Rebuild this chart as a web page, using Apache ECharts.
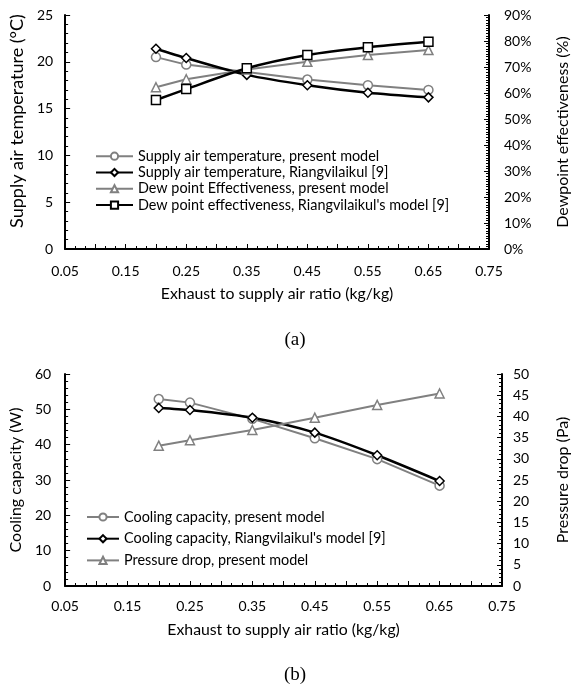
<!DOCTYPE html>
<html>
<head>
<meta charset="utf-8">
<script src="https://cdn.jsdelivr.net/npm/echarts@6/dist/echarts.min.js"></script>
<style>
html,body{margin:0;padding:0;background:#fff;}
#c{width:579px;height:686px;}
</style>
</head>
<body>
<div id="c"></div>
<script>
// ---- data ----
const ratios = [0.2, 0.25, 0.35, 0.45, 0.55, 0.65];
// (a)
const supplyTempPresent = [20.5, 19.7, 18.9, 18.1, 17.5, 17.0];
const supplyTempRiang = [21.4, 20.4, 18.6, 17.5, 16.7, 16.2];
const dewEffPresent = [62.2, 65.3, 69.0, 72.0, 74.6, 76.5];
const dewEffRiang = [57.3, 61.5, 69.5, 74.6, 77.6, 79.7];
// (b)
const coolingPresent = [52.9, 51.9, 47.3, 41.8, 35.9, 28.4];
const coolingRiang = [50.4, 49.8, 47.6, 43.4, 37.0, 29.7];
const pressureDropPresent = [33.1, 34.4, 36.8, 39.7, 42.7, 45.4];

const namesA = [
  'Supply air temperature, present model',
  'Supply air temperature, Riangvilaikul [9]',
  'Dew point Effectiveness, present model',
  "Dew point effectiveness, Riangvilaikul's model [9]"
];
const namesB = [
  'Cooling capacity, present model',
  "Cooling capacity, Riangvilaikul's model [9]",
  'Pressure drop, present model'
];
const xTitle = 'Exhaust to supply air ratio (kg/kg)';

const pair = (ys) => ratios.map((x, i) => [x, ys[i]]);

const GREY = '#808080';
const BLACK = '#000000';
const FONT = 'Lato';

function xAxisCfg(gridIndex, nameGap, margin) {
  return {
    type: 'value', gridIndex, min: 0.05, max: 0.75, interval: 0.05,
    name: xTitle, nameLocation: 'middle', nameGap,
    nameTextStyle: { fontFamily: FONT, fontSize: 15.8, color: '#000' },
    axisLine: { show: true, lineStyle: { color: '#000', width: 2 } },
    axisTick: { show: true, inside: true, length: 5, lineStyle: { color: '#000', width: 1 } },
    minorTick: { show: true, splitNumber: 3, length: 3, lineStyle: { color: '#000', width: 1 } },
    splitLine: { show: false },
    axisLabel: {
      margin, fontFamily: FONT, fontSize: 14, color: '#000',
      formatter: (v) => (Math.round(v * 100) % 10 === 5 ? v.toFixed(2) : '')
    }
  };
}

function yAxisCfg(gridIndex, pos, max, interval, minorSplit, name, nameGap, fmt, margin, nameSize, pad) {
  return {
    type: 'value', gridIndex, position: pos, min: 0, max, interval,
    name, nameLocation: 'middle', nameGap, nameRotate: 90,
    nameTextStyle: { fontFamily: FONT, fontSize: nameSize, color: '#000', padding: pad || 0 },
    axisLine: { show: true, lineStyle: { color: '#000', width: 2 } },
    axisTick: { show: true, inside: true, length: 5, lineStyle: { color: '#000', width: 1 } },
    minorTick: { show: true, splitNumber: minorSplit, length: 3, lineStyle: { color: '#000', width: 1 } },
    splitLine: { show: false },
    axisLabel: { margin, fontFamily: FONT, fontSize: 14, color: '#000', formatter: fmt }
  };
}

function lineSeries(name, data, xi, yi, color, symbol, width, smooth) {
  return {
    type: 'line', name, data, xAxisIndex: xi, yAxisIndex: yi,
    symbol, symbolSize: 9, showSymbol: true, smooth: smooth ? 0.25 : false,
    lineStyle: { color, width },
    itemStyle: { color: '#fff', borderColor: color, borderWidth: 1.5 },
    emphasis: { disabled: true },
    animation: false
  };
}

const chart = echarts.init(document.getElementById('c'), null, { renderer: 'canvas' });
chart.setOption({
  backgroundColor: '#fff',
  animation: false,
  textStyle: { fontFamily: FONT },
  grid: [
    { left: 62, top: 15, width: 452, height: 234 },
    { left: 62, top: 374, width: 465, height: 212 }
  ],
  xAxis: [xAxisCfg(0, 36.5, 15), xAxisCfg(1, 36, 13)],
  yAxis: [
    yAxisCfg(0, 'left', 25, 5, 5, 'Supply air temperature (°C)', 35, '{value}', 12, 18, [0, 0, 0, 22]),
    yAxisCfg(0, 'right', 90, 10, 10, 'Dewpoint effectiveness (%)', 66, '{value}%', 15, 16),
    yAxisCfg(1, 'left', 60, 10, 5, 'Cooling capacity (W)', 37, '{value}', 14, 16),
    yAxisCfg(1, 'right', 50, 5, 5, 'Pressure drop (Pa)', 53, '{value}', 11, 16)
  ],
  legend: [
    {
      data: namesA, orient: 'vertical', left: 95, top: 148, padding: 0,
      itemWidth: 37, itemHeight: 9, itemGap: 0,
      textStyle: { fontFamily: FONT, fontSize: 14.4, color: '#000', lineHeight: 16.3 },
      selectedMode: false
    },
    {
      data: namesB, orient: 'vertical', left: 86, top: 509, padding: 0,
      itemWidth: 32, itemHeight: 9, itemGap: 5.7,
      textStyle: { fontFamily: FONT, fontSize: 14.4, color: '#000', lineHeight: 16 },
      selectedMode: false
    }
  ],
  graphic: [
    { type: 'text', x: 295, y: 340, style: { text: '(a)', font: '19px "Liberation Serif"', fill: '#000', align: 'center', verticalAlign: 'middle', textAlign: 'center', textVerticalAlign: 'middle' } },
    { type: 'text', x: 295, y: 675, style: { text: '(b)', font: '19px "Liberation Serif"', fill: '#000', align: 'center', verticalAlign: 'middle', textAlign: 'center', textVerticalAlign: 'middle' } }
  ],
  series: [
    lineSeries(namesA[0], pair(supplyTempPresent), 0, 0, GREY, 'circle', 2, false),
    lineSeries(namesA[1], pair(supplyTempRiang), 0, 0, BLACK, 'diamond', 2.5, true),
    lineSeries(namesA[2], pair(dewEffPresent), 0, 1, GREY, 'triangle', 2, false),
    lineSeries(namesA[3], pair(dewEffRiang), 0, 1, BLACK, 'rect', 2.5, true),
    lineSeries(namesB[0], pair(coolingPresent), 1, 2, GREY, 'circle', 2, false),
    lineSeries(namesB[1], pair(coolingRiang), 1, 2, BLACK, 'diamond', 2.5, true),
    lineSeries(namesB[2], pair(pressureDropPresent), 1, 3, GREY, 'triangle', 2, false)
  ]
});
</script>
</body>
</html>
